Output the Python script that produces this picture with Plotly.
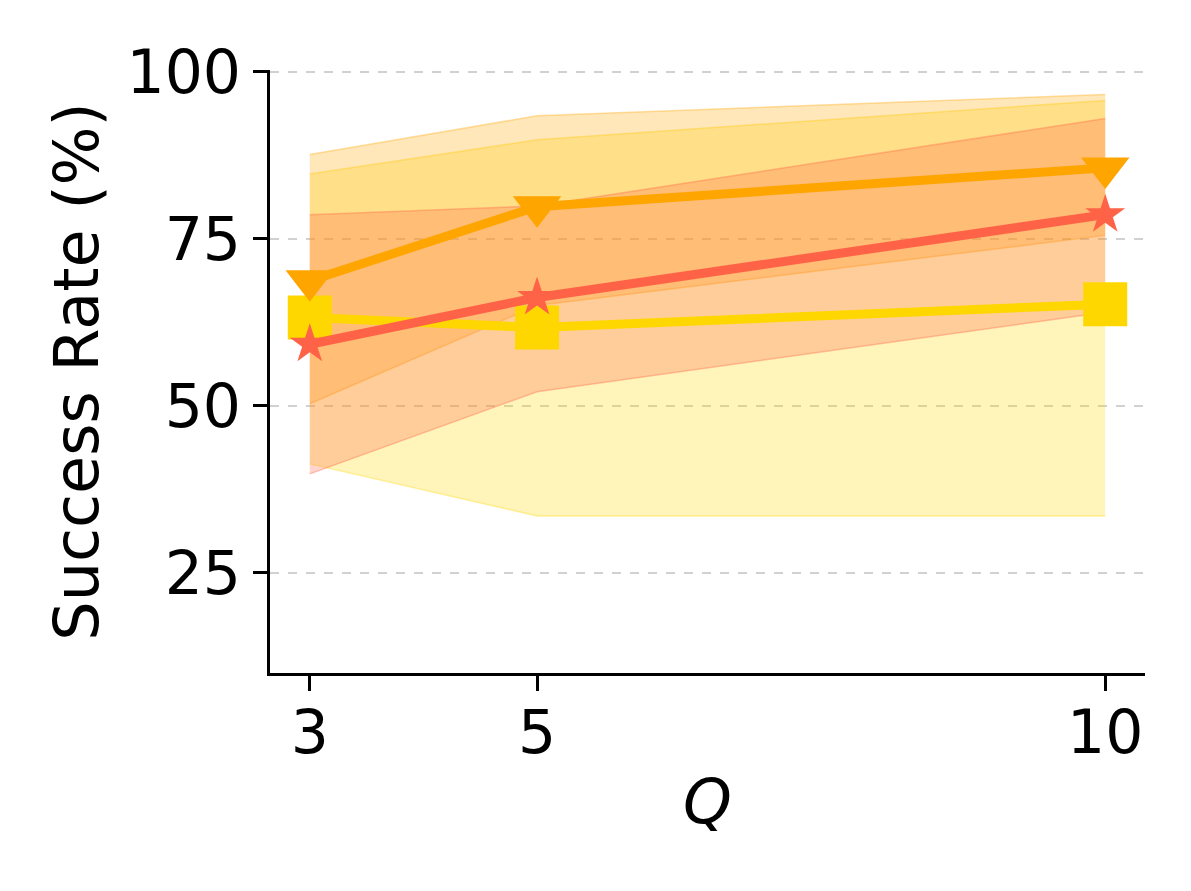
import plotly.graph_objects as go

q = [3, 5, 10]

# mean success rate and band per method
gold_mean = [63.2, 61.7, 65.2]
gold_low = [41.3, 33.5, 33.5]
gold_high = [84.7, 89.8, 95.7]

orange_mean = [68.7, 79.8, 85.6]
orange_low = [50.3, 65.0, 75.5]
orange_high = [87.6, 93.4, 96.6]

tomato_mean = [59.2, 66.2, 78.6]
tomato_low = [39.8, 52.1, 64.0]
tomato_high = [78.6, 79.9, 93.0]

y_ticks = [25, 50, 75, 100]

series = [
    ("gold", (255, 215, 0), gold_mean, gold_low, gold_high, "square", 44),
    ("orange", (255, 165, 0), orange_mean, orange_low, orange_high, "triangle-down", 42),
    ("tomato", (255, 99, 71), tomato_mean, tomato_low, tomato_high, "star", 30),
]

fig = go.Figure()

for name, (r, g, b), mean, low, high, symbol, msize in series:
    edge = "rgba(%d,%d,%d,0.35)" % (r, g, b)
    fill = "rgba(%d,%d,%d,0.27)" % (r, g, b)
    fig.add_trace(go.Scatter(
        x=q, y=low, mode="lines",
        line=dict(color=edge, width=1.5),
        showlegend=False, hoverinfo="skip"
    ))
    fig.add_trace(go.Scatter(
        x=q, y=high, mode="lines",
        line=dict(color=edge, width=1.5),
        fill="tonexty", fillcolor=fill,
        showlegend=False, hoverinfo="skip"
    ))

for name, (r, g, b), mean, low, high, symbol, msize in series:
    color = "rgb(%d,%d,%d)" % (r, g, b)
    fig.add_trace(go.Scatter(
        x=q, y=mean, mode="lines+markers",
        line=dict(color=color, width=9),
        marker=dict(symbol=symbol, size=msize, color=color, line=dict(width=0)),
        name=name, showlegend=False
    ))

fig.update_layout(
    width=1191, height=891,
    margin=dict(l=262, r=54, t=62, b=226),
    plot_bgcolor="white",
    paper_bgcolor="white",
    font=dict(family="DejaVu Sans", size=60, color="black"),
    showlegend=False,
)

fig.update_xaxes(
    range=[2.65, 10.35],
    tickvals=q,
    ticks="outside", ticklen=15, tickwidth=3, tickcolor="black",
    showline=True, linecolor="black", linewidth=3,
    showgrid=False, zeroline=False,
    ticklabelstandoff=-10,
    title=dict(text="<i>Q</i>", standoff=14, font=dict(size=62)),
)

fig.update_yaxes(
    range=[10, 100.25],
    tickvals=y_ticks,
    ticks="outside", ticklen=14, tickwidth=3, tickcolor="black",
    showline=True, linecolor="black", linewidth=3,
    showgrid=True, gridcolor="rgba(190,190,190,0.7)", gridwidth=1.5, griddash="dash",
    zeroline=False,
    ticklabelstandoff=0,
    title=dict(text="Success Rate (%)", standoff=8, font=dict(size=62)),
)

fig.write_html("out.html")
